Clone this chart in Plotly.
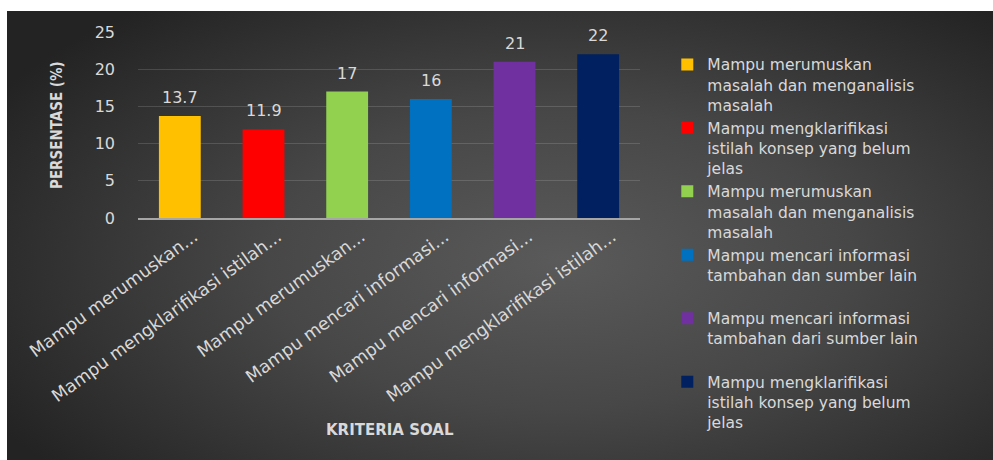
import plotly.graph_objects as go

# Criteria (short axis labels and full legend names), percentages and colours
tick_labels = [
    "Mampu merumuskan...",
    "Mampu mengklarifikasi istilah...",
    "Mampu merumuskan...",
    "Mampu mencari informasi...",
    "Mampu mencari informasi...",
    "Mampu mengklarifikasi istilah...",
]
legend_names = [
    "Mampu merumuskan<br>masalah dan menganalisis<br>masalah",
    "Mampu mengklarifikasi<br>istilah konsep yang belum<br>jelas",
    "Mampu merumuskan<br>masalah dan menganalisis<br>masalah",
    "Mampu mencari informasi<br>tambahan dan sumber lain<br>&nbsp;",
    "Mampu mencari informasi<br>tambahan dari sumber lain<br>&nbsp;",
    "Mampu mengklarifikasi<br>istilah konsep yang belum<br>jelas",
]
percentages = [13.7, 11.9, 17, 16, 21, 22]
bar_colors = ["#FFC000", "#FF0000", "#92D050", "#0070C0", "#7030A0", "#002060"]

W, H = 993, 460
TXT = "#d9d9d9"
FONT = "DejaVu Sans"

fig = go.Figure()

# Dark radial-gradient panel behind the chart (pixel-like coordinates, y up)
cx, cy = 560, 200
hx, hy = 650, 330
fig.add_trace(go.Scatter(
    x=[cx - hx, cx + hx, cx + hx, cx - hx, cx - hx],
    y=[cy - hy, cy - hy, cy + hy, cy + hy, cy - hy],
    mode="none", fill="toself",
    fillgradient=dict(type="radial",
                      colorscale=[[0, "#5a5a5a"], [0.45, "#474747"], [1, "#232323"]]),
    hoverinfo="skip", showlegend=False, xaxis="x", yaxis="y",
))

# One bar trace per criterion so each gets its own legend entry
for i, (name, val, col) in enumerate(zip(legend_names, percentages, bar_colors)):
    fig.add_trace(go.Bar(
        x=[i], y=[val], name=name, width=0.5,
        marker=dict(color=col, line=dict(width=0)),
        xaxis="x2", yaxis="y2",
    ))
    fig.add_annotation(
        x=i, y=val, xref="x2", yref="y2", text=f"{val:g}",
        showarrow=False, yanchor="bottom", yshift=7,
        font=dict(family=FONT, size=16, color=TXT),
    )

# Axis titles
fig.add_annotation(
    x=390 / W, y=1 - 430 / H, xref="paper", yref="paper",
    xanchor="center", yanchor="middle",
    text="<b>KRITERIA SOAL</b>", showarrow=False,
    font=dict(family=FONT, size=15, color=TXT),
)
fig.add_annotation(
    x=57 / W, y=1 - 125 / H, xref="paper", yref="paper",
    xanchor="center", yanchor="middle",
    text="<b>PERSENTASE (%)</b>", showarrow=False, textangle=-90,
    font=dict(family="DejaVu Sans Condensed, Liberation Sans Narrow, DejaVu Sans",
              size=15, color=TXT),
)

fig.update_layout(
    width=W, height=H,
    margin=dict(l=0, r=0, t=0, b=0),
    paper_bgcolor="white",
    plot_bgcolor="rgba(0,0,0,0)",
    barmode="overlay",
    showlegend=True,
    legend=dict(
        x=0.672, xanchor="left", y=0.896, yanchor="top",
        bgcolor="rgba(0,0,0,0)", valign="top", traceorder="normal",
        font=dict(family=FONT, size=15.5, color=TXT),
    ),
    xaxis=dict(domain=[7 / W, 1], range=[7, W], visible=False, fixedrange=True),
    yaxis=dict(domain=[0, 1 - 11 / H], range=[0, H - 11], visible=False, fixedrange=True),
    xaxis2=dict(
        domain=[138 / W, 640 / W], anchor="y2", range=[-0.5, 5.5],
        tickmode="array", tickvals=list(range(len(tick_labels))), ticktext=tick_labels,
        tickangle=-36, ticklabelshift=14, ticklabelstandoff=0,
        tickfont=dict(family=FONT, size=17.5, color=TXT),
        showgrid=False, zeroline=False, showline=True,
        linecolor="#a6a6a6", linewidth=1.5, ticks="", automargin=False,
    ),
    yaxis2=dict(
        domain=[1 - 218 / H, 1 - 32 / H], anchor="x2", range=[0, 25], dtick=5,
        tickfont=dict(family=FONT, size=16, color=TXT),
        gridcolor="rgba(255,255,255,0.14)", gridwidth=1,
        zeroline=False, showline=False, ticks="", ticklabelstandoff=22,
        automargin=False,
    ),
)

fig.write_html("out.html")
